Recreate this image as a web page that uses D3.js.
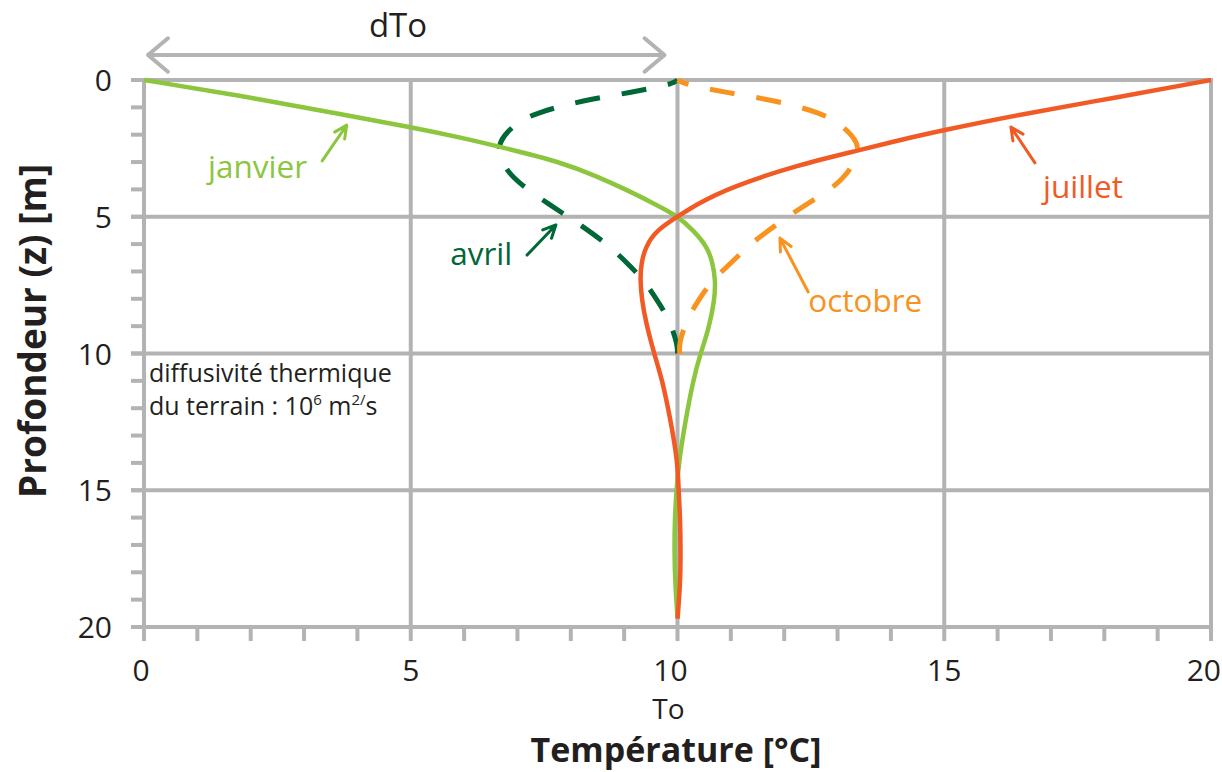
<!DOCTYPE html>
<html>
<head>
<meta charset="utf-8">
<script src="https://cdn.jsdelivr.net/npm/d3@7"></script>
<style>
  body { margin: 0; background: #fff; }
  text { font-family: "Open Sans", "Noto Sans", sans-serif; fill: #231f20; }
</style>
</head>
<body>
<div id="chart"></div>
<script>
// depth (m) / temperature (°C)
const janvierZ = [0, 0.57, 1.25, 1.73, 2.13, 2.44, 2.99, 3.53, 4.02, 4.5, 4.94, 5.5, 6.1, 6.7, 7.3, 8.0, 9.15, 10, 11, 12.45, 13.9, 15, 16, 17.3, 18.5, 19.65];
const janvierT = [0, 1.8, 3.68, 5.03, 6.0, 6.67, 7.8, 8.5, 9.05, 9.54, 9.98, 10.3, 10.56, 10.66, 10.71, 10.7, 10.58, 10.43, 10.29, 10.15, 10.03, 9.98, 9.95, 9.94, 9.96, 10.0];

const avrilZ = [0, 0.15, 0.46, 0.75, 1.21, 1.6, 2.3, 2.9, 3.47, 4.02, 4.57, 5.0, 5.5, 6.1, 6.7, 7.3, 8.05, 8.85, 9.7, 10.0];
const avrilT = [10, 9.91, 9.12, 8.21, 7.33, 6.95, 6.62, 6.68, 6.86, 7.2, 7.61, 7.95, 8.33, 8.74, 9.06, 9.36, 9.62, 9.87, 10.0, 10.0];

const juilletZ = [0, 0.63, 1.3, 1.83, 2.19, 2.56, 3.11, 3.91, 4.57, 5.0, 5.5, 6.1, 6.7, 7.3, 8.0, 8.8, 10, 11, 12.45, 13.9, 15, 16, 17.3, 18.5, 19.7];
const juilletT = [20, 18.25, 16.3, 15.0, 14.17, 13.42, 12.25, 11.0, 10.33, 10.0, 9.6, 9.4, 9.32, 9.3, 9.33, 9.4, 9.56, 9.72, 9.87, 10.0, 10.02, 10.05, 10.06, 10.05, 10.0];

const octobreZ = [0, 0.18, 0.46, 0.75, 1.21, 1.6, 2.3, 2.9, 3.55, 4.1, 4.57, 5.0, 5.57, 6.1, 6.7, 7.3, 8.05, 8.85, 9.7, 10.07];
const octobreT = [10.0, 10.17, 10.93, 11.84, 12.71, 13.05, 13.42, 13.35, 13.14, 12.8, 12.39, 12.07, 11.65, 11.31, 11.0, 10.66, 10.39, 10.15, 10.02, 10.05];

const tempTicks = [0, 5, 10, 15, 20];
const depthTicks = [0, 5, 10, 15, 20];

const width = 1222;
const height = 772;

const x = d3.scaleLinear().domain([0, 20]).range([144, 1211]);
const y = d3.scaleLinear().domain([0, 20]).range([80, 627]);

const grey = "#b3b3b3";

const svg = d3.select("#chart").append("svg")
  .attr("width", width)
  .attr("height", height);

// minor ticks every 1 unit
const g = svg.append("g");
g.selectAll(".ytick").data(d3.range(0, 21)).enter().append("line")
  .attr("x1", x(0) - 13).attr("x2", x(0))
  .attr("y1", d => y(d)).attr("y2", d => y(d))
  .attr("stroke", grey).attr("stroke-width", 4);
g.selectAll(".xtick").data(d3.range(0, 21)).enter().append("line")
  .attr("x1", d => x(d)).attr("x2", d => x(d))
  .attr("y1", y(20)).attr("y2", y(20) + 14)
  .attr("stroke", grey).attr("stroke-width", 4);

// grid
g.selectAll(".vgrid").data(tempTicks).enter().append("line")
  .attr("x1", d => x(d)).attr("x2", d => x(d))
  .attr("y1", y(0) - 2).attr("y2", y(20) + 2)
  .attr("stroke", grey).attr("stroke-width", 4);
g.selectAll(".hgrid").data(depthTicks).enter().append("line")
  .attr("x1", x(0) - 13).attr("x2", x(20) + 2)
  .attr("y1", d => y(d)).attr("y2", d => y(d))
  .attr("stroke", grey).attr("stroke-width", 4);

// tick labels
g.selectAll(".ylab").data(depthTicks).enter().append("text")
  .attr("x", 112).attr("y", d => y(d) + 11)
  .attr("text-anchor", "end")
  .attr("font-size", 30)
  .text(d => d);
g.selectAll(".xlab").data(tempTicks).enter().append("text")
  .attr("x", d => d === 20 ? 1221 : x(d) - (d === 10 ? 7 : d === 0 ? 3 : 0))
  .attr("y", 681)
  .attr("text-anchor", d => d === 20 ? "end" : "middle")
  .attr("font-size", 30)
  .text(d => d);

// axis titles
svg.append("text")
  .attr("x", x(10) - 9).attr("y", 719)
  .attr("text-anchor", "middle")
  .attr("font-size", 28)
  .text("To");
svg.append("text")
  .attr("x", 676).attr("y", 762)
  .attr("text-anchor", "middle")
  .attr("font-size", 34)
  .attr("font-weight", "bold")
  .text("Température [°C]");
svg.append("text")
  .attr("transform", "translate(46,331) rotate(-90)")
  .attr("text-anchor", "middle")
  .attr("font-size", 37)
  .attr("font-weight", "bold")
  .text("Profondeur (z) [m]");

// dTo arrow
function chevron(sel, px, py, dir, len, color, w) {
  const dx = -dir * len * Math.cos(Math.PI / 4.5);
  const dy = len * Math.sin(Math.PI / 4.5);
  sel.append("path")
    .attr("d", `M${px + dx},${py - dy}L${px},${py}L${px + dx},${py + dy}`)
    .attr("fill", "none")
    .attr("stroke", color)
    .attr("stroke-width", w)
    .attr("stroke-linecap", "round")
    .attr("stroke-linejoin", "round");
}
const dToY = 55;
svg.append("line")
  .attr("x1", x(0) + 4).attr("x2", x(10) - 13)
  .attr("y1", dToY).attr("y2", dToY)
  .attr("stroke", grey).attr("stroke-width", 4);
chevron(svg, x(0) + 4, dToY, -1, 26, grey, 4);
chevron(svg, x(10) - 13, dToY, 1, 26, grey, 4);
svg.append("text")
  .attr("x", 398).attr("y", 37)
  .attr("text-anchor", "middle")
  .attr("font-size", 33)
  .text("dTo");

// note
const note = svg.append("text").attr("font-size", 25);
note.append("tspan").attr("x", 149).attr("y", 382).text("diffusivité thermique");
note.append("tspan").attr("x", 149).attr("y", 415).text("du terrain : 10");
note.append("tspan").attr("dy", -10).attr("font-size", 15).text("6");
note.append("tspan").attr("dy", 10).text(" m");
note.append("tspan").attr("dy", -10).attr("font-size", 15).text("2/");
note.append("tspan").attr("dy", 10).text("s");

// curves
const line = d3.line()
  .x(d => x(d[1]))
  .y(d => y(d[0]))
  .curve(d3.curveBasis);

const series = [
  { z: avrilZ, t: avrilT, color: "#006837", dash: "25,22", offset: 14, w: 5 },
  { z: octobreZ, t: octobreT, color: "#f7931e", dash: "25,22", offset: 13, w: 5 },
  { z: janvierZ, t: janvierT, color: "#8cc63f", dash: null, w: 4.5 },
  { z: juilletZ, t: juilletT, color: "#f15a24", dash: null, w: 4.5 }
];
series.forEach(s => {
  svg.append("path")
    .datum(d3.zip(s.z, s.t))
    .attr("d", line)
    .attr("fill", "none")
    .attr("stroke", s.color)
    .attr("stroke-width", s.w)
    .attr("stroke-dasharray", s.dash)
    .attr("stroke-dashoffset", s.offset || 0);
});

// labels with arrows (data units)
const labels = [
  { text: "janvier", color: "#8cc63f", tx: 1.2, tz: 3.58, from: [3.34, 2.96], to: [3.8, 1.65] },
  { text: "avril", color: "#006837", tx: 5.74, tz: 6.76, from: [7.18, 6.4], to: [7.72, 5.3] },
  { text: "juillet", color: "#f15a24", tx: 16.85, tz: 4.31, from: [16.7, 3.03], to: [16.25, 1.72] },
  { text: "octobre", color: "#f7931e", tx: 12.45, tz: 8.48, from: [12.45, 7.75], to: [11.92, 5.78] }
];
labels.forEach(l => {
  svg.append("text")
    .attr("x", x(l.tx)).attr("y", y(l.tz))
    .attr("font-size", 31.5)
    .style("fill", l.color)
    .text(l.text);
  const x1 = x(l.from[0]), y1 = y(l.from[1]);
  const x2 = x(l.to[0]), y2 = y(l.to[1]);
  const a = Math.atan2(y2 - y1, x2 - x1);
  const len = 14, spread = Math.PI / 7;
  svg.append("path")
    .attr("d", `M${x1},${y1}L${x2},${y2}` +
      `M${x2 - len * Math.cos(a - spread)},${y2 - len * Math.sin(a - spread)}L${x2},${y2}` +
      `L${x2 - len * Math.cos(a + spread)},${y2 - len * Math.sin(a + spread)}`)
    .attr("fill", "none")
    .attr("stroke", l.color)
    .attr("stroke-width", 3)
    .attr("stroke-linecap", "round")
    .attr("stroke-linejoin", "round");
});
</script>
</body>
</html>
